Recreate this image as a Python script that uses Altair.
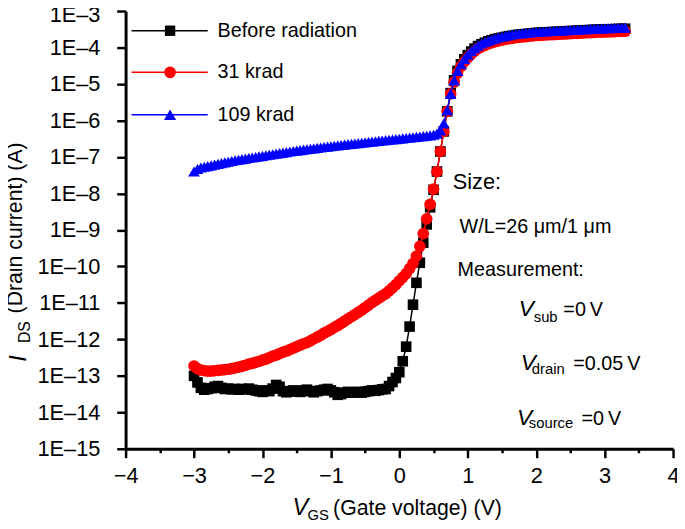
import altair as alt
import pandas as pd

# Gate-voltage sweep (V)
V = [-3.00, -2.95, -2.90, -2.85, -2.80, -2.75, -2.70, -2.65, -2.60, -2.55,
     -2.50, -2.45, -2.40, -2.35, -2.30, -2.25, -2.20, -2.15, -2.10, -2.05,
     -2.00, -1.95, -1.90, -1.85, -1.80, -1.75, -1.70, -1.65, -1.60, -1.55,
     -1.50, -1.45, -1.40, -1.35, -1.30, -1.25, -1.20, -1.15, -1.10, -1.05,
     -1.00, -0.95, -0.90, -0.85, -0.80, -0.75, -0.70, -0.65, -0.60, -0.55,
     -0.50, -0.45, -0.40, -0.35, -0.30, -0.25, -0.20, -0.15, -0.10, -0.05,
     0.00, 0.05, 0.10, 0.15, 0.20, 0.25, 0.30, 0.35, 0.40, 0.45,
     0.50, 0.55, 0.60, 0.65, 0.70, 0.75, 0.80, 0.85, 0.90, 0.95,
     1.00, 1.05, 1.10, 1.15, 1.20, 1.25, 1.30, 1.35, 1.40, 1.45,
     1.50, 1.55, 1.60, 1.65, 1.70, 1.75, 1.80, 1.85, 1.90, 1.95,
     2.00, 2.05, 2.10, 2.15, 2.20, 2.25, 2.30, 2.35, 2.40, 2.45,
     2.50, 2.55, 2.60, 2.65, 2.70, 2.75, 2.80, 2.85, 2.90, 2.95,
     3.00, 3.05, 3.10, 3.15, 3.20, 3.25, 3.30]

# log10 of drain current (A)
before_log = [-13.00, -13.18, -13.33, -13.38, -13.36, -13.34, -13.30, -13.28, -13.33, -13.36,
              -13.35, -13.37, -13.36, -13.38, -13.36, -13.37, -13.35, -13.38, -13.40, -13.42,
              -13.44, -13.40, -13.42, -13.35, -13.25, -13.30, -13.42, -13.45, -13.43, -13.40,
              -13.42, -13.44, -13.40, -13.38, -13.42, -13.45, -13.42, -13.40, -13.38, -13.36,
              -13.40, -13.45, -13.52, -13.50, -13.46, -13.44, -13.46, -13.45, -13.44, -13.46,
              -13.44, -13.42, -13.40, -13.41, -13.39, -13.37, -13.36, -13.28, -13.17, -13.06,
              -12.90, -12.60, -12.20, -11.65, -11.05, -10.45, -9.90, -9.35, -8.85, -8.38,
              -7.90, -7.40, -6.85, -6.30, -5.75, -5.25, -4.90, -4.64, -4.46, -4.32,
              -4.21, -4.11, -4.03, -3.96, -3.91, -3.87, -3.83, -3.80, -3.77, -3.75,
              -3.73, -3.71, -3.69, -3.68, -3.66, -3.65, -3.64, -3.63, -3.62, -3.61,
              -3.60, -3.595, -3.59, -3.585, -3.58, -3.575, -3.57, -3.565, -3.56, -3.555,
              -3.55, -3.545, -3.54, -3.535, -3.53, -3.525, -3.52, -3.515, -3.51, -3.51,
              -3.505, -3.50, -3.50, -3.495, -3.49, -3.49, -3.485]

krad31_log = [-12.73, -12.80, -12.84, -12.86, -12.87, -12.87, -12.86, -12.85, -12.84, -12.83,
              -12.82, -12.80, -12.78, -12.76, -12.74, -12.71, -12.68, -12.66, -12.63, -12.60,
              -12.57, -12.54, -12.50, -12.46, -12.43, -12.39, -12.35, -12.32, -12.28, -12.24,
              -12.20, -12.16, -12.12, -12.09, -12.04, -11.99, -11.94, -11.89, -11.83, -11.78,
              -11.73, -11.67, -11.62, -11.56, -11.50, -11.44, -11.38, -11.32, -11.26, -11.20,
              -11.13, -11.06, -10.99, -10.93, -10.87, -10.81, -10.75, -10.67, -10.59, -10.50,
              -10.40, -10.30, -10.20, -10.06, -9.92, -9.72, -9.45, -9.10, -8.70, -8.30,
              -7.88, -7.40, -6.85, -6.30, -5.75, -5.27, -4.95, -4.70, -4.52, -4.39,
              -4.28, -4.18, -4.10, -4.03, -3.98, -3.94, -3.90, -3.87, -3.84, -3.82,
              -3.80, -3.78, -3.76, -3.75, -3.73, -3.72, -3.71, -3.70, -3.69, -3.68,
              -3.67, -3.665, -3.66, -3.655, -3.65, -3.645, -3.64, -3.635, -3.63, -3.625,
              -3.62, -3.615, -3.61, -3.605, -3.60, -3.595, -3.59, -3.585, -3.58, -3.58,
              -3.575, -3.57, -3.57, -3.565, -3.56, -3.56, -3.555]

krad109_log = [-7.40, -7.33, -7.29, -7.27, -7.25, -7.23, -7.21, -7.19, -7.17, -7.15,
               -7.13, -7.11, -7.09, -7.075, -7.06, -7.045, -7.03, -7.015, -7.00, -6.985,
               -6.97, -6.955, -6.94, -6.925, -6.91, -6.895, -6.88, -6.866, -6.852, -6.838,
               -6.825, -6.812, -6.80, -6.788, -6.776, -6.764, -6.752, -6.74, -6.728, -6.716,
               -6.705, -6.694, -6.683, -6.672, -6.661, -6.65, -6.64, -6.63, -6.62, -6.61,
               -6.60, -6.59, -6.58, -6.57, -6.56, -6.55, -6.54, -6.53, -6.52, -6.51,
               -6.50, -6.49, -6.48, -6.47, -6.46, -6.45, -6.44, -6.43, -6.42, -6.41,
               -6.39, -6.36, -6.27, -6.08, -5.72, -5.27, -4.90, -4.64, -4.46, -4.31,
               -4.20, -4.10, -4.02, -3.95, -3.89, -3.85, -3.81, -3.78, -3.75, -3.72,
               -3.70, -3.68, -3.66, -3.645, -3.63, -3.62, -3.61, -3.60, -3.59, -3.58,
               -3.57, -3.565, -3.56, -3.555, -3.55, -3.545, -3.54, -3.535, -3.53, -3.525,
               -3.52, -3.515, -3.51, -3.505, -3.50, -3.495, -3.49, -3.485, -3.48, -3.48,
               -3.475, -3.47, -3.47, -3.465, -3.46, -3.46, -3.455]

series_names = ["Before radiation", "31 krad", "109 krad"]
series_colors = ["#000000", "#ff0000", "#0000ff"]
series_shapes = ["square", "circle", "triangle-up"]
series_sizes = [115, 140, 140]
legend_sizes = [110, 140, 150]

# legend placement (data units: V, log10 I)
legend_x1 = -3.913
legend_x2 = -2.80
legend_xm = -3.35
legend_xt = -2.657
legend_log = [-3.54, -4.68, -5.84]

x_ticks = [-4, -3.5, -3, -2.5, -2, -1.5, -1, -0.5, 0, 0.5, 1, 1.5, 2, 2.5, 3, 3.5, 4]
y_ticks = [1e-15, 1e-14, 1e-13, 1e-12, 1e-11, 1e-10, 1e-9, 1e-8, 1e-7, 1e-6, 1e-5, 1e-4, 1e-3]

# annotation texts (normal)
ann_text = ["Size:", "W/L=26 \u03bcm/1 \u03bcm", "Measurement:", "=0\u2009V", "=0.05\u2009V", "=0\u2009V"]
ann_V = [0.78, 0.881, 0.852, 2.397, 2.542, 2.661]
ann_log = [-7.875, -9.094, -10.259, -11.36, -12.851, -14.34]
ann_size = [22, 20, 20, 20, 20, 20]
# subscripts
sub_text = ["sub", "drain", "source"]
sub_V = [1.964, 1.935, 1.892]
sub_log = [-11.532, -12.94, -14.43]
# italic V
ital_V = [1.747, 1.776, 1.718]
ital_log = [-11.369, -12.851, -14.34]

FONT = "Liberation Sans"

x_axis = alt.Axis(
    values=x_ticks, title=None, grid=False,
    labelExpr="datum.value % 1 === 0 ? format(datum.value, '.0f') : ''",
    tickSize={"condition": {"test": "datum.value % 1 !== 0", "value": 4}, "value": 9},
    labelPadding=8, labelFontSize=22, labelFont=FONT, labelColor="black",
    domainColor="black", domainWidth=3, tickColor="black", tickWidth=2.5,
    labelFlush=False, labelOverlap=False,
)
y_axis = alt.Axis(
    values=y_ticks, title=None, grid=False,
    labelExpr="'1E\u2013' + format(-log(datum.value)/LN10, '.0f')",
    labelOffset={"condition": {"test": "datum.value > 0.0005", "value": 4}, "value": 0},
    tickSize=9, labelPadding=17, labelFontSize=22, labelFont=FONT, labelColor="black",
    domainColor="black", domainWidth=3, tickColor="black", tickWidth=2.5,
    labelFlush=False, labelOverlap=False,
)
x_scale = alt.Scale(domain=[-4, 4], nice=False, zero=False)
y_scale = alt.Scale(type="log", domain=[1e-15, 1e-3], nice=False)

X = alt.X("V:Q", scale=x_scale, axis=x_axis)
Y = alt.Y("I:Q", scale=y_scale, axis=y_axis)

layers = []
for name, logs, col, shp, sz in zip(series_names, [before_log, krad31_log, krad109_log],
                                     series_colors, series_shapes, series_sizes):
    df = pd.DataFrame({"V": V[:len(logs)], "I": [10 ** v for v in logs]})
    base = alt.Chart(df)
    layers.append(base.mark_line(color=col, strokeWidth=1.5).encode(x=X, y=Y))
    layers.append(base.mark_point(shape=shp, filled=True, color=col, size=sz,
                                  opacity=1, strokeWidth=0).encode(x=X, y=Y))

# legend
for i, (name, col, shp, sz) in enumerate(zip(series_names, series_colors, series_shapes, legend_sizes)):
    ldf = pd.DataFrame({"V": [legend_x1], "V2": [legend_x2], "Vm": [legend_xm], "Vt": [legend_xt],
                        "I": [10 ** legend_log[i]], "label": [name]})
    lb = alt.Chart(ldf)
    layers.append(lb.mark_rule(color=col, strokeWidth=1.5).encode(x=X, x2="V2:Q", y=Y))
    layers.append(lb.mark_point(shape=shp, filled=True, color=col, size=sz, opacity=1,
                                strokeWidth=0).encode(x=alt.X("Vm:Q", scale=x_scale, axis=x_axis), y=Y))
    layers.append(lb.mark_text(align="left", baseline="middle", fontSize=20, font=FONT,
                               color="black").encode(x=alt.X("Vt:Q", scale=x_scale, axis=x_axis), y=Y,
                                                     text="label:N"))

# annotations
adf = pd.DataFrame({"V": ann_V, "I": [10 ** v for v in ann_log], "t": ann_text, "s": ann_size})
layers.append(alt.Chart(adf).mark_text(align="left", baseline="alphabetic", font=FONT, color="black").encode(
    x=X, y=Y, text="t:N", size=alt.Size("s:Q", scale=None, legend=None)))
sdf = pd.DataFrame({"V": sub_V, "I": [10 ** v for v in sub_log], "t": sub_text})
layers.append(alt.Chart(sdf).mark_text(align="left", baseline="alphabetic", font=FONT, fontSize=15,
                                       color="black").encode(x=X, y=Y, text="t:N"))
idf = pd.DataFrame({"V": ital_V, "I": [10 ** v for v in ital_log], "t": ["V", "V", "V"]})
layers.append(alt.Chart(idf).mark_text(align="left", baseline="alphabetic", font=FONT, fontSize=23,
                                       fontStyle="italic", color="black").encode(x=X, y=Y, text="t:N"))

# axis titles (pixel positions outside the plot area)
def ptext(txt, x, y, size, angle=0, italic=False):
    d = pd.DataFrame({"t": [txt]})
    kw = dict(align="left", baseline="alphabetic", font=FONT, fontSize=size, color="black", angle=angle)
    if italic:
        kw["fontStyle"] = "italic"
    return alt.Chart(d).mark_text(**kw).encode(x=alt.value(x), y=alt.value(y), text="t:N")

layers.append(ptext("I", -101, 355, 24, angle=270, italic=True))
layers.append(ptext("DS", -97, 336, 16, angle=270))
layers.append(ptext("(Drain current) (A)", -105, 306, 21.5, angle=270))
layers.append(ptext("V", 169, 510, 24, italic=True))
layers.append(ptext("GS", 184, 515, 15))
layers.append(ptext("(Gate voltage) (V)", 210, 510, 21.5))

chart = alt.layer(*layers).properties(
    width=554, height=443,
    autosize=alt.AutoSizeParams(type="none"),
    padding={"left": 119, "top": 0, "right": 4, "bottom": 70},
).configure_view(stroke=None)

chart.save("out.html", embed_options={"renderer": "svg", "actions": False})
